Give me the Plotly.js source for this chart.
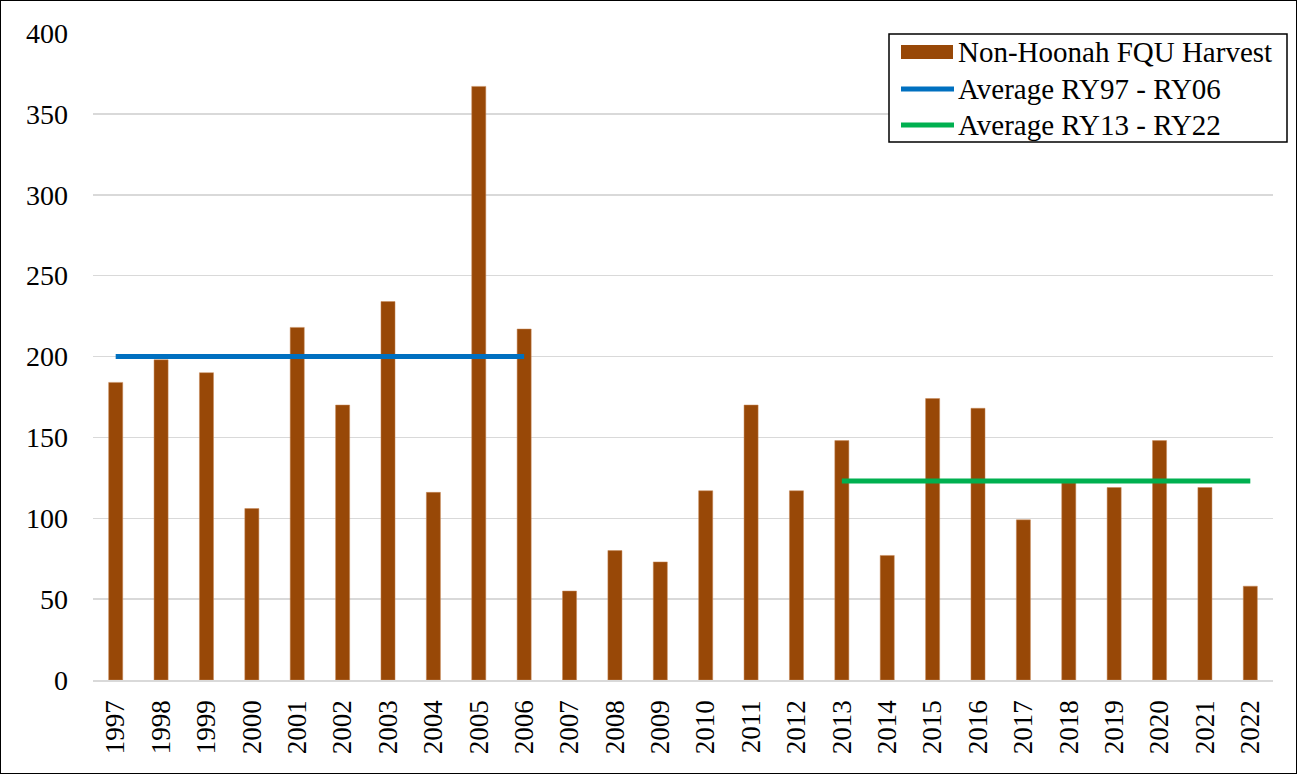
<!DOCTYPE html>
<html>
<head>
<meta charset="utf-8">
<script src="https://cdn.plot.ly/plotly-3.0.1.min.js"></script>
<style>
  html, body { margin: 0; padding: 0; background: #fff; }
  #wrap { position: relative; width: 1297px; height: 774px; }
  #chart { width: 1297px; height: 774px; }
  #frame { position: absolute; left: 0; top: 0; width: 1297px; height: 774px;
           box-sizing: border-box; border: 1px solid #000; pointer-events: none; }
</style>
</head>
<body>
<div id="wrap">
  <div id="chart"></div>
  <div id="frame"></div>
</div>
<script>
// Harvest by regulatory year
const years = ['1997','1998','1999','2000','2001','2002','2003','2004','2005','2006',
               '2007','2008','2009','2010','2011','2012','2013','2014','2015','2016',
               '2017','2018','2019','2020','2021','2022'];
const harvest = [184, 198, 190, 106, 218, 170, 234, 116, 367, 217,
                 55, 80, 73, 117, 170, 117, 148, 77, 174, 168,
                 99, 122, 119, 148, 119, 58];

// Period averages (start year, end year, value)
const earlyPeriod = ['1997', '2006'];
const earlyAverage = 200;
const latePeriod = ['2013', '2022'];
const lateAverage = 123;

const yTicks = [0, 50, 100, 150, 200, 250, 300, 350, 400];

const seriesNames = ['Non-Hoonah FQU Harvest', 'Average RY97 - RY06', 'Average RY13 - RY22'];
const seriesColors = ['#984807', '#0070C0', '#00B050'];

const serif = 'Liberation Serif, Times New Roman, serif';

const W = 1297, H = 774;
const M = { l: 93, r: 24, t: 33, b: 94 };
const plotW = W - M.l - M.r, plotH = H - M.t - M.b;
// pixel position -> paper fraction
const fx = (px) => (px - M.l) / plotW;
const fy = (py) => (H - M.b - py) / plotH;

const traces = [
  {
    type: 'bar',
    name: seriesNames[0],
    x: years,
    y: harvest,
    marker: { color: seriesColors[0], line: { color: '#c98a5a', width: 0.5 } },
    hoverinfo: 'x+y'
  },
  {
    type: 'scatter',
    mode: 'lines',
    name: seriesNames[1],
    x: earlyPeriod,
    y: [earlyAverage, earlyAverage],
    line: { color: seriesColors[1], width: 5 }
  },
  {
    type: 'scatter',
    mode: 'lines',
    name: seriesNames[2],
    x: latePeriod,
    y: [lateAverage, lateAverage],
    line: { color: seriesColors[2], width: 5 }
  }
];

// Legend box drawn as paper-space shapes and text
const legendRows = [52, 89, 125];
const shapes = [
  { type: 'rect', xref: 'paper', yref: 'paper',
    x0: fx(889), x1: fx(1287), y0: fy(142), y1: fy(34),
    line: { color: '#000', width: 1.5 }, fillcolor: '#fff', layer: 'above' },
  { type: 'rect', xref: 'paper', yref: 'paper',
    x0: fx(901), x1: fx(953), y0: fy(legendRows[0] + 7), y1: fy(legendRows[0] - 7),
    line: { width: 0 }, fillcolor: seriesColors[0], layer: 'above' },
  { type: 'line', xref: 'paper', yref: 'paper',
    x0: fx(901), x1: fx(954), y0: fy(legendRows[1]), y1: fy(legendRows[1]),
    line: { color: seriesColors[1], width: 5 }, layer: 'above' },
  { type: 'line', xref: 'paper', yref: 'paper',
    x0: fx(901), x1: fx(954), y0: fy(legendRows[2]), y1: fy(legendRows[2]),
    line: { color: seriesColors[2], width: 5 }, layer: 'above' }
];
const annotations = seriesNames.map((name, i) => ({
  xref: 'paper', yref: 'paper',
  x: fx(956), y: fy(legendRows[i]),
  xanchor: 'left', yanchor: 'middle',
  text: name, showarrow: false,
  font: { family: serif, size: 29, color: '#000' }
}));

const layout = {
  width: W,
  height: H,
  margin: M,
  paper_bgcolor: '#ffffff',
  plot_bgcolor: '#ffffff',
  font: { family: serif, size: 27, color: '#000' },
  bargap: 0.69,
  showlegend: false,
  shapes: shapes,
  annotations: annotations,
  xaxis: {
    type: 'category',
    categoryorder: 'array',
    categoryarray: years,
    tickangle: -90,
    tickfont: { family: serif, size: 27 },
    showgrid: false,
    showline: true,
    linecolor: '#D9D9D9',
    linewidth: 1.5,
    ticks: '',
    ticklabelstandoff: 8,
    zeroline: false,
    fixedrange: true
  },
  yaxis: {
    range: [0, 400],
    tickvals: yTicks,
    ticktext: yTicks.map(String),
    tickfont: { family: serif, size: 28 },
    showgrid: true,
    gridcolor: '#D9D9D9',
    gridwidth: 1.5,
    zeroline: false,
    showline: false,
    ticks: '',
    ticklabelstandoff: 24,
    fixedrange: true
  }
};

Plotly.newPlot('chart', traces, layout, { displayModeBar: false, staticPlot: true });
</script>
</body>
</html>
